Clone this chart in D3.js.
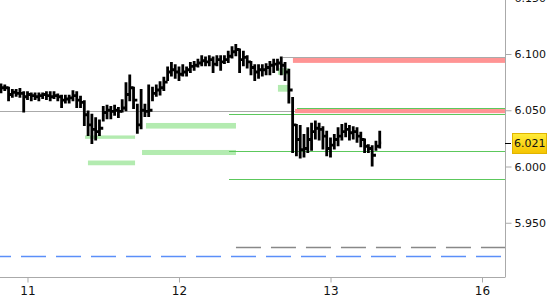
<!DOCTYPE html>
<html>
<head>
<meta charset="utf-8">
<script src="https://cdn.jsdelivr.net/npm/d3@7"></script>
<style>
  body { margin: 0; background: #fff; }
  svg text { font-family: "DejaVu Sans", Verdana, sans-serif; font-size: 11px; fill: #111; }
</style>
</head>
<body>
<div id="visContainer"></div>
<script>
// trading days on the x axis (weekend skipped between 13 and 16)
const dayTicks = [0, 1, 2, 3];
const dayLabels = ["11", "12", "13", "16"];
const priceTicks = [5.95, 6.0, 6.05, 6.1, 6.15];
const lastPrice = 6.021;

// bars: start day and spacing, then high / low / close
const barStart = -0.175;
const barStep = 0.025;
const highs = [6.073, 6.072, 6.070, 6.068, 6.068, 6.069, 6.066, 6.066, 6.065, 6.065,
  6.065, 6.065, 6.066, 6.066, 6.066, 6.064, 6.063, 6.063, 6.063, 6.067,
  6.066, 6.062, 6.058, 6.049, 6.046, 6.043, 6.041, 6.053, 6.054, 6.053,
  6.054, 6.052, 6.059, 6.074, 6.081, 6.070, 6.055, 6.068, 6.055, 6.072,
  6.070, 6.072, 6.075, 6.079, 6.088, 6.092, 6.090, 6.088, 6.090, 6.088,
  6.092, 6.093, 6.095, 6.098, 6.097, 6.098, 6.097, 6.098, 6.098, 6.098,
  6.102, 6.106, 6.108, 6.104, 6.102, 6.098, 6.093, 6.090, 6.090, 6.090,
  6.091, 6.093, 6.095, 6.095, 6.097, 6.092, 6.086, 6.061, 6.037, 6.036,
  6.028, 6.034, 6.038, 6.040, 6.038, 6.035, 6.031, 6.025, 6.028, 6.034,
  6.037, 6.038, 6.036, 6.035, 6.034, 6.030, 6.024, 6.019, 6.018, 6.022, 6.031];
const lows = [6.066, 6.068, 6.059, 6.062, 6.063, 6.062, 6.049, 6.060, 6.059, 6.060,
  6.059, 6.061, 6.060, 6.059, 6.061, 6.059, 6.053, 6.057, 6.057, 6.059,
  6.053, 6.053, 6.037, 6.028, 6.021, 6.024, 6.028, 6.041, 6.043, 6.043,
  6.046, 6.044, 6.049, 6.050, 6.059, 6.052, 6.030, 6.034, 6.045, 6.045,
  6.059, 6.063, 6.064, 6.068, 6.077, 6.081, 6.079, 6.077, 6.081, 6.081,
  6.084, 6.086, 6.089, 6.090, 6.090, 6.090, 6.084, 6.090, 6.086, 6.092,
  6.093, 6.097, 6.099, 6.084, 6.090, 6.088, 6.082, 6.077, 6.079, 6.081,
  6.082, 6.082, 6.084, 6.086, 6.082, 6.077, 6.057, 6.013, 6.010, 6.008,
  6.009, 6.013, 6.015, 6.025, 6.024, 6.016, 6.010, 6.009, 6.016, 6.019,
  6.024, 6.027, 6.024, 6.025, 6.022, 6.018, 6.013, 6.013, 6.001, 6.015, 6.017];
const closes = [6.070, 6.070, 6.064, 6.066, 6.065, 6.065, 6.062, 6.064, 6.063, 6.062,
  6.063, 6.064, 6.063, 6.062, 6.063, 6.062, 6.059, 6.060, 6.061, 6.063,
  6.059, 6.057, 6.046, 6.037, 6.033, 6.031, 6.034, 6.048, 6.050, 6.049,
  6.050, 6.049, 6.052, 6.064, 6.070, 6.059, 6.037, 6.050, 6.049, 6.050,
  6.065, 6.068, 6.070, 6.075, 6.084, 6.086, 6.084, 6.082, 6.084, 6.086,
  6.089, 6.090, 6.092, 6.094, 6.093, 6.095, 6.091, 6.095, 6.093, 6.095,
  6.098, 6.102, 6.104, 6.095, 6.097, 6.093, 6.088, 6.084, 6.086, 6.086,
  6.088, 6.090, 6.091, 6.092, 6.090, 6.084, 6.068, 6.037, 6.024, 6.015,
  6.016, 6.024, 6.031, 6.034, 6.033, 6.027, 6.016, 6.019, 6.024, 6.027,
  6.031, 6.033, 6.030, 6.031, 6.027, 6.024, 6.018, 6.016, 6.010, 6.018, 6.021];

// horizontal levels: price, start day (null = left edge), colour, dash
const levels = [
  { price: 6.0494, from: null, color: "#aaaaaa", dash: null, to: 1.766 },
  { price: 6.0972, from: 1.686, color: "#aaaaaa", dash: null },
  { price: 6.0518, from: 1.779, color: "#5cc85c", dash: null },
  { price: 6.0465, from: 1.330, color: "#5cc85c", dash: null },
  { price: 6.0138, from: 1.330, color: "#5cc85c", dash: null },
  { price: 5.9889, from: 1.330, color: "#5cc85c", dash: null },
  { price: 5.9284, from: 1.376, color: "#888888", dash: "25,10" },
  { price: 5.9204, from: null, color: "#5b8ff9", dash: "25,10" },
];

// shaded zones: price top, price bottom, start day, end day (null = right edge)
const zonesRed = [
  { top: 6.0966, bottom: 6.0921, from: 1.752, to: null },
  { top: 6.0512, bottom: 6.0474, from: 1.766, to: null },
];
const zonesGreen = [
  { top: 6.0276, bottom: 6.0246, from: 0.380, to: 0.710 },
  { top: 6.0053, bottom: 6.0011, from: 0.399, to: 0.710 },
  { top: 6.0387, bottom: 6.0337, from: 0.782, to: 1.376 },
  { top: 6.0147, bottom: 6.0102, from: 0.756, to: 1.376 },
  { top: 6.0874, bottom: 6.0815, from: 1.653, to: 1.726 },
  { top: 6.0725, bottom: 6.0665, from: 1.653, to: 1.726 },
];

const width = 550;
const height = 300;
const margin = { top: 0, right: 45, bottom: 23, left: 0 };
const plotRight = width - margin.right;
const plotBottom = height - margin.bottom;

const svg = d3.select("#visContainer")
  .append("svg")
  .attr("width", width)
  .attr("height", height);

const xScale = d3.scaleLinear()
  .domain([-0.1815, 3.1518])
  .range([0, plotRight]);

const yScale = d3.scaleLinear()
  .domain([6.0, 6.1])
  .range([166.5, 54]);

const dayOf = (v, fallback) => (v === null || v === undefined ? fallback : v);
const [d0, d1] = xScale.domain();

// green zones
svg.append("g")
  .selectAll("rect")
  .data(zonesGreen)
  .join("rect")
  .attr("x", (d) => xScale(d.from))
  .attr("y", (d) => yScale(d.top))
  .attr("width", (d) => xScale(dayOf(d.to, d1)) - xScale(d.from))
  .attr("height", (d) => yScale(d.bottom) - yScale(d.top))
  .attr("fill", "#b3ebb0");

// red zones
svg.append("g")
  .selectAll("rect")
  .data(zonesRed)
  .join("rect")
  .attr("x", (d) => xScale(d.from))
  .attr("y", (d) => yScale(d.top))
  .attr("width", (d) => xScale(dayOf(d.to, d1)) - xScale(d.from))
  .attr("height", (d) => yScale(d.bottom) - yScale(d.top))
  .attr("fill", "#ff9494");

// level lines
svg.append("g")
  .selectAll("line")
  .data(levels)
  .join("line")
  .attr("x1", (d) => xScale(dayOf(d.from, d0)))
  .attr("x2", (d) => xScale(dayOf(d.to, d1)))
  .attr("y1", (d) => Math.round(yScale(d.price)) + 0.5)
  .attr("y2", (d) => Math.round(yScale(d.price)) + 0.5)
  .attr("stroke", (d) => d.color)
  .attr("stroke-width", (d) => (d.dash ? 1.5 : 1.2))
  .attr("stroke-dasharray", (d) => d.dash)
  .attr("stroke-dashoffset", (d) => (d.from === null ? 14 : 0));

// price bars: vertical high-low range plus a step to the next bar at the close
const bars = closes.map((c, i) => ({
  t: barStart + i * barStep,
  hi: highs[i],
  lo: lows[i],
  close: c,
}));

svg.append("g")
  .selectAll("path")
  .data(bars)
  .join("path")
  .attr("d", (d, i) => {
    const x = xScale(d.t);
    const xNext = i < bars.length - 1 ? xScale(bars[i + 1].t) : x + 1.5;
    return `M${x},${yScale(d.lo) + 1}V${yScale(d.hi) - 1}M${x},${yScale(d.close)}H${xNext}`;
  })
  .attr("fill", "none")
  .attr("stroke", "#000")
  .attr("stroke-width", 2.8);

// x axis
const xAxis = svg.append("g")
  .attr("transform", `translate(0, ${plotBottom + 0.5})`)
  .call(d3.axisBottom(xScale)
    .tickValues(dayTicks)
    .tickSize(5)
    .tickPadding(4)
    .tickFormat((d, i) => dayLabels[i]));
xAxis.select(".domain").attr("stroke", "#aaa").attr("d", `M0,0H${plotRight + 0.5}`);
xAxis.selectAll(".tick line").attr("stroke", "#aaa");
xAxis.selectAll(".tick text").style("font-size", "12px");

// y axis on the right
const yAxis = svg.append("g")
  .attr("transform", `translate(${plotRight + 0.5}, 0)`)
  .call(d3.axisRight(yScale)
    .tickValues(priceTicks)
    .tickSize(6)
    .tickPadding(3)
    .tickFormat(d3.format(".3f")));
yAxis.select(".domain").attr("stroke", "#aaa").attr("d", `M0,0V${plotBottom}`);
yAxis.selectAll(".tick line").attr("stroke", "#aaa");

// current price marker
const yLast = yScale(lastPrice);
const grad = svg.append("defs").append("linearGradient")
  .attr("id", "goldGrad")
  .attr("x1", 0).attr("y1", 0).attr("x2", 0).attr("y2", 1);
grad.append("stop").attr("offset", "0%").attr("stop-color", "#ffec3a");
grad.append("stop").attr("offset", "100%").attr("stop-color", "#f5c400");

svg.append("line")
  .attr("x1", plotRight)
  .attr("x2", plotRight + 6)
  .attr("y1", Math.round(yLast) + 0.5)
  .attr("y2", Math.round(yLast) + 0.5)
  .attr("stroke", "#000");

svg.append("rect")
  .attr("x", plotRight + 7.5)
  .attr("y", Math.round(yLast) - 9.5)
  .attr("width", 34)
  .attr("height", 20)
  .attr("fill", "url(#goldGrad)")
  .attr("stroke", "#e0b400");

svg.append("text")
  .attr("x", plotRight + 9)
  .attr("y", yLast)
  .attr("dy", "0.35em")
  .text(d3.format(".3f")(lastPrice));
</script>
</body>
</html>
